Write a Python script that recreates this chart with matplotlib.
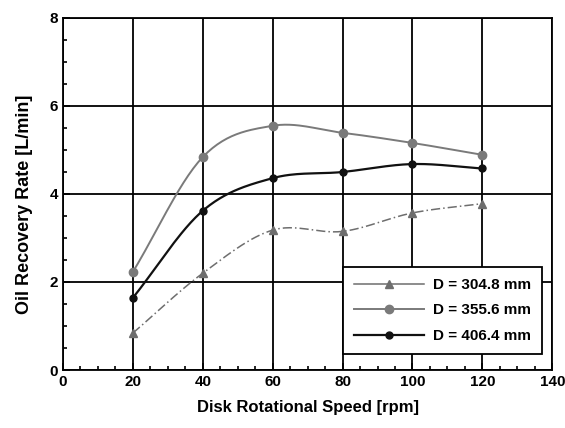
import numpy as np
import matplotlib
matplotlib.use("Agg")
import matplotlib.pyplot as plt
from matplotlib.ticker import MultipleLocator

plt.rcParams['font.family'] = ['Liberation Sans', 'DejaVu Sans']

# data
speed = [20, 40, 60, 80, 100, 120]
rate_304 = [0.84, 2.20, 3.18, 3.15, 3.57, 3.78]
rate_355 = [2.23, 4.84, 5.55, 5.39, 5.16, 4.89]
rate_406 = [1.64, 3.62, 4.36, 4.50, 4.68, 4.58]
labels = ["D = 304.8 mm", "D = 355.6 mm", "D = 406.4 mm"]


def smooth(x, y, n=30):
    # Catmull-Rom curve through the points, only for drawing the line
    x = np.asarray(x, float)
    y = np.asarray(y, float)
    px = np.concatenate([[2 * x[0] - x[1]], x, [2 * x[-1] - x[-2]]])
    py = np.concatenate([[2 * y[0] - y[1]], y, [2 * y[-1] - y[-2]]])
    t = np.linspace(0, 1, n)[:, None]
    xs, ys = [], []
    for i in range(1, len(px) - 2):
        p = np.array([[px[j], py[j]] for j in range(i - 1, i + 3)])
        c = 0.5 * (2 * p[1] + (-p[0] + p[2]) * t
                   + (2 * p[0] - 5 * p[1] + 4 * p[2] - p[3]) * t ** 2
                   + (-p[0] + 3 * p[1] - 3 * p[2] + p[3]) * t ** 3)
        xs.append(c[:, 0])
        ys.append(c[:, 1])
    return np.concatenate(xs), np.concatenate(ys)


fig = plt.figure(figsize=(5.65, 4.28), dpi=100)
ax = fig.add_axes([0.1115, 0.1355, 0.866, 0.8225])

styles = [
    (rate_304, '#6e6e6e', (0, (6, 2, 1, 2)), '^', 6, 1.1),
    (rate_355, '#7a7a7a', '-', 'o', 6, 1.4),
    (rate_406, '#111111', '-', 'o', 5, 1.6),
]

for (vals, col, ls, mk, ms, lw), lab in zip(styles, labels):
    sx, sy = smooth(speed, vals)
    ax.plot(sx, sy, color=col, linestyle=ls, linewidth=lw)
    ax.plot(speed, vals, linestyle='none', marker=mk, markersize=ms,
            color=col)
    # legend handle
    ax.plot([], [], color=col, linestyle='-', linewidth=lw, marker=mk,
            markersize=ms, label=lab)

ax.set_xlim(0, 140)
ax.set_ylim(0, 8)
ax.xaxis.set_major_locator(MultipleLocator(20))
ax.xaxis.set_minor_locator(MultipleLocator(5))
ax.yaxis.set_major_locator(MultipleLocator(2))
ax.yaxis.set_minor_locator(MultipleLocator(0.5))
ax.tick_params(which='both', direction='in', labelsize=11, width=1.2)
ax.tick_params(which='major', length=5)
ax.tick_params(which='minor', length=3)
for t in ax.get_xticklabels() + ax.get_yticklabels():
    t.set_fontweight('bold')

ax.grid(True, which='major', color='black', linewidth=1.3)
ax.set_axisbelow(True)
for s in ax.spines.values():
    s.set_linewidth(1.3)

ax.set_xlabel("Disk Rotational Speed [rpm]", fontsize=12, fontweight='bold',
              labelpad=8)
ax.set_ylabel("Oil Recovery Rate [L/min]", fontsize=13, fontweight='bold')
ax.yaxis.set_label_coords(-0.062, 0.47)

leg = ax.legend(loc='lower right', bbox_to_anchor=(0.995, 0.025),
                fontsize=11, handlelength=4.6, frameon=True, fancybox=False,
                borderpad=0.7, labelspacing=0.75, handletextpad=0.6)
leg.get_frame().set_edgecolor('black')
leg.get_frame().set_linewidth(1.3)
leg.get_frame().set_alpha(1)
for t in leg.get_texts():
    t.set_fontweight('bold')

fig.savefig("out.png", dpi=100)
